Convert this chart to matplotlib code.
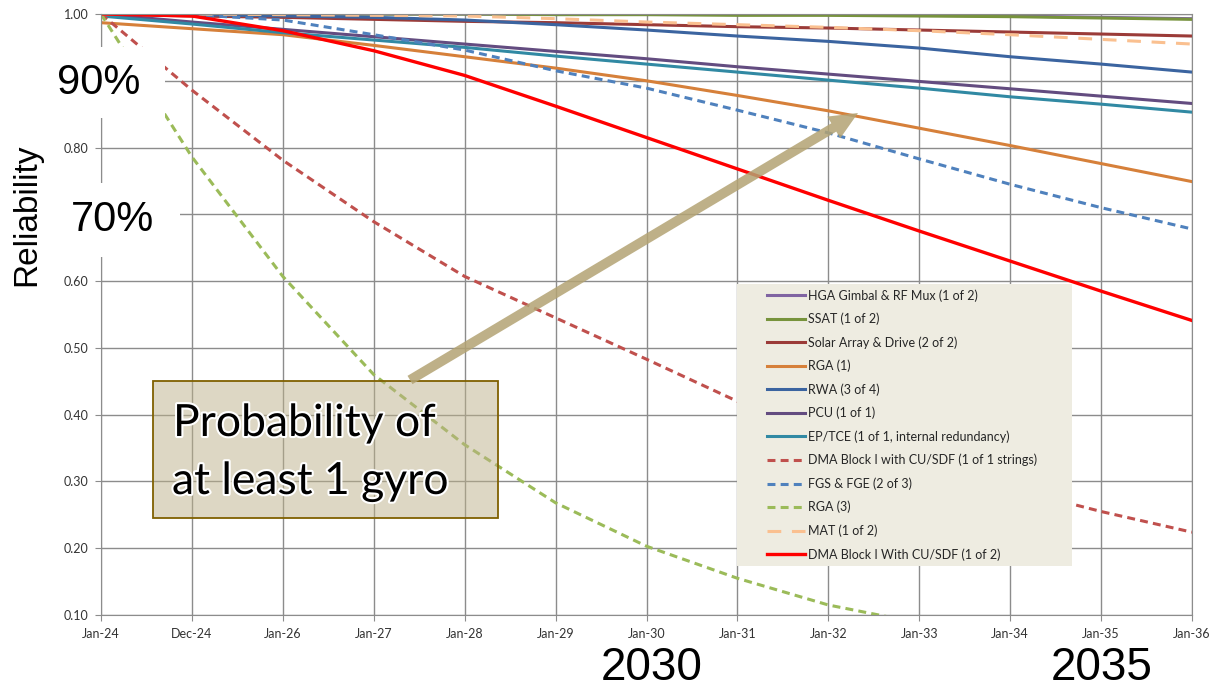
import numpy as np
import matplotlib.pyplot as plt
from matplotlib.patches import Rectangle, FancyArrowPatch
from matplotlib.lines import Line2D
import matplotlib.patheffects as pe

W, H = 1209, 691

#%% datos
meses = ['Jan-24', 'Dec-24', 'Jan-26', 'Jan-27', 'Jan-28', 'Jan-29', 'Jan-30',
         'Jan-31', 'Jan-32', 'Jan-33', 'Jan-34', 'Jan-35', 'Jan-36']

hga = [1.0, 1.0, 1.0, 1.0, 1.0, 1.0, 1.0, 1.0, 0.999, 0.998, 0.997, 0.995, 0.993]
ssat = [1.0, 1.0, 1.0, 1.0, 1.0, 0.999, 0.999, 0.998, 0.998, 0.997, 0.996, 0.994, 0.992]
solar = [1.0, 0.997, 0.995, 0.992, 0.989, 0.987, 0.984, 0.981, 0.979, 0.976, 0.973, 0.970, 0.967]
rga1 = [0.987, 0.978, 0.969, 0.953, 0.936, 0.919, 0.900, 0.878, 0.855, 0.829, 0.803, 0.776, 0.749]
rwa = [1.0, 0.999, 0.997, 0.995, 0.991, 0.984, 0.976, 0.967, 0.959, 0.949, 0.936, 0.925, 0.913]
pcu = [1.0, 0.988, 0.977, 0.966, 0.955, 0.944, 0.933, 0.921, 0.910, 0.899, 0.888, 0.877, 0.866]
eptce = [0.997, 0.985, 0.972, 0.961, 0.950, 0.937, 0.925, 0.913, 0.901, 0.889, 0.876, 0.865, 0.853]
dma_1de1 = [1.0, 0.886, 0.781, 0.689, 0.607, 0.545, 0.483, 0.420, 0.375, 0.330, 0.290, 0.255, 0.224]
fgs = [1.0, 0.999, 0.991, 0.969, 0.946, 0.915, 0.889, 0.856, 0.822, 0.783, 0.745, 0.710, 0.678]
rga3 = [1.0, 0.786, 0.607, 0.460, 0.355, 0.268, 0.203, 0.155, 0.115, 0.088]
mat = [1.0, 1.0, 0.999, 0.998, 0.997, 0.993, 0.988, 0.984, 0.980, 0.975, 0.969, 0.962, 0.955]
dma_1de2 = [1.0, 0.997, 0.975, 0.945, 0.908, 0.862, 0.815, 0.768, 0.721, 0.675, 0.630, 0.585, 0.541]

nombres = ['HGA Gimbal & RF Mux (1 of 2)', 'SSAT (1 of 2)', 'Solar Array & Drive (2 of 2)',
           'RGA (1)', 'RWA (3 of 4)', 'PCU (1 of 1)', 'EP/TCE (1 of 1, internal redundancy)',
           'DMA Block I with CU/SDF (1 of 1 strings)', 'FGS & FGE (2 of 3)', 'RGA (3)',
           'MAT (1 of 2)', 'DMA Block I With CU/SDF (1 of 2)']
series = [hga, ssat, solar, rga1, rwa, pcu, eptce, dma_1de1, fgs, rga3, mat, dma_1de2]

#%% estilos
colores = ['#8064A2', '#77933C', '#9B3B38', '#D6803A', '#3B64A0', '#634C80', '#3189A3',
           '#C0504D', '#4F81BD', '#9BBB59', '#FAC090', '#FF0000']
guiones = [None] * 7 + [(2.6, 1.7), (2.6, 1.7), (2.6, 1.7), (4.5, 3.5), None]
anchos = [2.2] * 11 + [2.4]

fig = plt.figure(figsize=(W / 100, H / 100), dpi=100)
ax = fig.add_axes([101 / W, 1 - 615 / H, (1192 - 101) / W, (615 - 14) / H])

x = np.arange(len(meses))
handles = []
for y, c, d, lw, nom in zip(series, colores, guiones, anchos, nombres):
    kw = {} if d is None else {'dashes': d}
    ls = '-' if d is None else '--'
    ax.plot(x[:len(y)], y, color=c, lw=lw, ls=ls, **kw)
    handles.append(Line2D([], [], color=c, lw=lw, ls=ls, **kw))

ax.set_xlim(0, len(meses) - 1)
ax.set_ylim(0.10, 1.00)
ax.set_xticks(x)
ax.set_xticklabels(meses)
yt = np.arange(0.10, 1.001, 0.10)
ax.set_yticks(yt)
# 0.90 y 0.70 quedan tapados por los carteles de 90% y 70%
ax.set_yticklabels(['' if round(v, 2) in (0.9, 0.7) else f'{v:.2f}' for v in yt])
ax.grid(True, color='#8C8C8C', lw=1.0)
ax.set_axisbelow(True)
for s in ax.spines.values():
    s.set_color('#8C8C8C')
ax.tick_params(direction='out', length=4, color='#8C8C8C', labelsize=9, labelcolor='#333333', pad=5)
for lab in ax.get_xticklabels() + ax.get_yticklabels():
    lab.set_family('Lato')

#%% leyenda con fondo
fig.add_artist(Rectangle((737 / W, 1 - 566 / H), (1072 - 737) / W, (566 - 284) / H,
                         transform=fig.transFigure, facecolor='#EEECE1', edgecolor='none', zorder=1))
fig.legend(handles, nombres, loc='upper left', bbox_to_anchor=(767 / W, 1 - 289 / H),
           frameon=False, borderpad=0, borderaxespad=0, handlelength=3.0, handletextpad=0.25,
           labelspacing=0.88, prop={'family': 'Lato', 'size': 9}, labelcolor='#262626')

#%% textos grandes
fig.add_artist(Rectangle((45 / W, 1 - 118 / H), 120 / W, 71 / H, transform=fig.transFigure,
                         facecolor='white', edgecolor='none', zorder=1))
fig.add_artist(Rectangle((50 / W, 1 - 257 / H), 130 / W, 74 / H, transform=fig.transFigure,
                         facecolor='white', edgecolor='none', zorder=1))
fig.text(99 / W, 1 - 83 / H, '90%', fontsize=30, family='Liberation Sans', ha='center', va='center')
fig.text(113 / W, 1 - 220 / H, '70%', fontsize=30, family='Liberation Sans', ha='center', va='center')
fig.text(27 / W, 1 - 215 / H, 'Reliability', rotation=90, fontsize=24, family='Liberation Sans',
         ha='center', va='center')
fig.text(652 / W, 1 - 668 / H, '2030', fontsize=33, family='Liberation Sans', ha='center', va='center')
fig.text(1102 / W, 1 - 668 / H, '2035', fontsize=33, family='Liberation Sans', ha='center', va='center')

#%% caja y flecha
fig.add_artist(Rectangle((153 / W, 1 - 518 / H), (498 - 153) / W, (518 - 381) / H,
                         transform=fig.transFigure, facecolor='#BDB18A', alpha=0.5,
                         edgecolor='none', zorder=1))
fig.add_artist(Rectangle((153 / W, 1 - 518 / H), (498 - 153) / W, (518 - 381) / H,
                         transform=fig.transFigure, facecolor='none', edgecolor='#7F6000',
                         lw=1.3, zorder=1.1))
efecto = [pe.withStroke(linewidth=3, foreground='white')]
fig.text(173 / W, 1 - 436 / H, 'Probability of', fontsize=32, family='Lato', ha='left',
         va='baseline', path_effects=efecto)
fig.text(172 / W, 1 - 494 / H, 'at least 1 gyro', fontsize=32, family='Lato', ha='left',
         va='baseline', path_effects=efecto)

flecha = FancyArrowPatch((410 / W, 1 - 380 / H), (858 / W, 1 - 113 / H), transform=fig.transFigure,
                         arrowstyle='simple,head_width=1.3,head_length=1.45,tail_width=0.5',
                         mutation_scale=14, facecolor='#B3A373', edgecolor='none', alpha=0.85,
                         shrinkA=0, shrinkB=0, zorder=2)
fig.add_artist(flecha)

fig.savefig('out.png', dpi=100)
